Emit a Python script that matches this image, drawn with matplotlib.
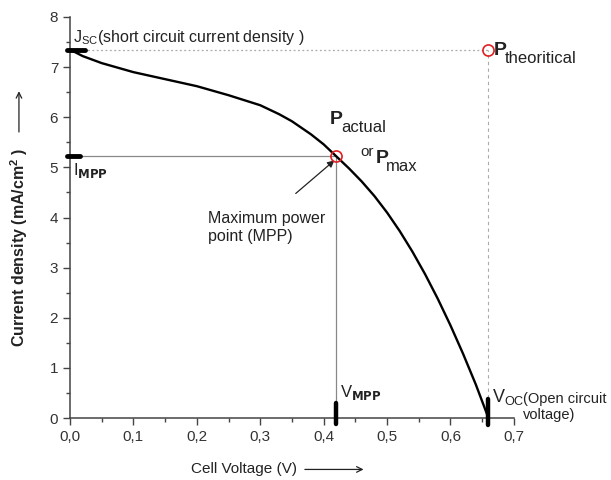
import matplotlib.pyplot as plt
import numpy as np

plt.rcParams["font.family"] = ["Liberation Sans", "DejaVu Sans"]

# J-V curve of the cell
voltage = [0.0, 0.02, 0.05, 0.10, 0.15, 0.20, 0.25, 0.30, 0.33, 0.35, 0.38,
           0.40, 0.42, 0.44, 0.46, 0.48, 0.50, 0.52, 0.54, 0.56, 0.58, 0.60,
           0.62, 0.64, 0.66]
current = [7.35, 7.22, 7.08, 6.90, 6.76, 6.62, 6.44, 6.24, 6.06, 5.92, 5.66,
           5.46, 5.22, 4.98, 4.72, 4.43, 4.10, 3.73, 3.32, 2.87, 2.38, 1.85,
           1.28, 0.67, 0.00]

j_sc = 7.35
v_oc = 0.66
v_mpp = 0.42
i_mpp = 5.22

x_ticks = [0.0, 0.1, 0.2, 0.3, 0.4, 0.5, 0.6, 0.7]
x_ticklabels = ["0,0", "0,1", "0,2", "0,3", "0,4", "0,5", "0,6", "0,7"]
y_ticks = [0, 1, 2, 3, 4, 5, 6, 7, 8]

fig = plt.figure(figsize=(6.11, 4.8), dpi=100)
ax = fig.add_axes([0.1146, 0.129, 0.7264, 0.8356])

ax.plot(voltage, current, color="black", linewidth=1.7, zorder=3)

# reference lines
ax.plot([0, v_oc], [j_sc, j_sc], color="#aaaaaa", linestyle=(0, (1.5, 2)), linewidth=0.9)
ax.plot([v_oc, v_oc], [0, j_sc], color="#aaaaaa", linestyle=(0, (3, 3)), linewidth=0.8)
ax.plot([0, v_mpp], [i_mpp, i_mpp], color="#888888", linewidth=0.9)
ax.plot([v_mpp, v_mpp], [0, i_mpp], color="#888888", linewidth=0.9)

# red points
ax.plot([v_mpp, v_oc], [i_mpp, j_sc], linestyle="none", marker="o", markersize=8,
        markerfacecolor="none", markeredgecolor="#e02020", markeredgewidth=1.2, zorder=4)

# thick marks on the axes
ax.plot([-0.004, 0.024], [j_sc, j_sc], color="black", linewidth=3.5,
        solid_capstyle="round", clip_on=False, zorder=5)
ax.plot([-0.004, 0.016], [i_mpp, i_mpp], color="black", linewidth=3.5,
        solid_capstyle="round", clip_on=False, zorder=5)
ax.plot([v_mpp, v_mpp], [-0.12, 0.3], color="black", linewidth=3.2,
        solid_capstyle="round", clip_on=False, zorder=5)
ax.plot([v_oc, v_oc], [-0.14, 0.38], color="black", linewidth=3.2,
        solid_capstyle="round", clip_on=False, zorder=5)

ax.set_xlim(0, 0.7)
ax.set_ylim(0, 8)
ax.set_xticks(x_ticks)
ax.set_xticklabels(x_ticklabels)
ax.set_yticks(y_ticks)
ax.set_xticks(np.arange(0.05, 0.7, 0.1), minor=True)
ax.set_yticks(np.arange(0.5, 8, 1.0), minor=True)
ax.tick_params(which="major", direction="out", length=5, width=1, colors="#444444",
               labelsize=11, labelcolor="#333333")
ax.tick_params(which="minor", direction="out", length=3, width=1, colors="#444444")
for s in ["top", "right"]:
    ax.spines[s].set_visible(False)
for s in ["left", "bottom"]:
    ax.spines[s].set_color("#444444")
    ax.spines[s].set_linewidth(1.1)

dark = "#222222"
ax.text(0.004, 7.6, r"J$_\mathregular{SC}$(short circuit current density )",
        va="center", fontsize=11.5, color=dark)
ax.text(0.004, 4.93, r"I$_\mathbf{MPP}$", va="center", fontsize=12, color=dark)
ax.text(0.668, 7.33, "P", va="center", fontsize=14, fontweight="bold", color=dark)
ax.text(0.685, 7.18, "theoritical", va="center", fontsize=12, color=dark)
ax.text(0.41, 5.95, "P", va="center", fontsize=14, fontweight="bold", color=dark)
ax.text(0.427, 5.79, "actual", va="center", fontsize=12, color=dark)
ax.text(0.458, 5.3, "or", va="center", fontsize=11, color=dark)
ax.text(0.482, 5.17, "P", va="center", fontsize=14, fontweight="bold", color=dark)
ax.text(0.499, 5.01, "max", va="center", fontsize=12, color=dark)
ax.text(0.217, 3.8, "Maximum power\npoint (MPP)", va="center", linespacing=1.3,
        fontsize=11.5, color=dark)
ax.annotate("", xy=(0.417, 5.14), xytext=(0.356, 4.48),
            arrowprops=dict(arrowstyle="-|>", color=dark, lw=0.9,
                            mutation_scale=10, shrinkA=0, shrinkB=0))
ax.text(0.426, 0.52, r"V$_\mathbf{MPP}$", va="center", fontsize=12, color=dark)
ax.text(0.666, 0.42, r"V$_\mathregular{OC}$", va="center", fontsize=13, color=dark)
ax.text(0.714, 0.22, "(Open circuit\nvoltage)", va="center", ha="left",
        linespacing=1.2, clip_on=False, fontsize=10.5, color=dark)

# axis labels with their arrows
fig.text(0.031, 0.485, r"Current density (mA/cm$^\mathregular{2}$ )", rotation=90,
         ha="center", va="center", fontsize=11.5, fontweight="bold", color=dark)
ax.annotate("", xy=(0.031, 0.81), xycoords="figure fraction",
            xytext=(0.031, 0.725), textcoords="figure fraction",
            arrowprops=dict(arrowstyle="->", color=dark, lw=0.9, shrinkA=0, shrinkB=0))
fig.text(0.40, 0.022, "Cell Voltage (V)", ha="center", va="center",
         fontsize=11, color=dark)
ax.annotate("", xy=(0.595, 0.022), xycoords="figure fraction",
            xytext=(0.499, 0.022), textcoords="figure fraction",
            arrowprops=dict(arrowstyle="->", color=dark, lw=0.9, shrinkA=0, shrinkB=0))

fig.savefig("out.png", dpi=100)
